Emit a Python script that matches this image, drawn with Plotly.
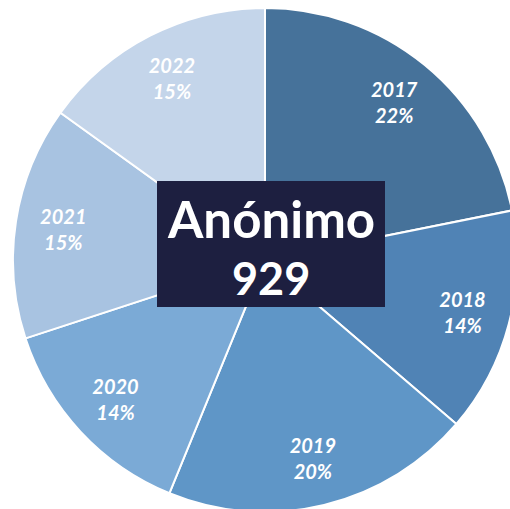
import plotly.graph_objects as go

years = ["2017", "2018", "2019", "2020", "2021", "2022"]
counts = [203, 134, 185, 128, 139, 140]
colors = ["#46729a", "#5083b5", "#5f96c7", "#7baad6", "#a8c3e1", "#c4d5ea"]
center_title = "Anónimo"
center_total = sum(counts)

W, H = 517, 512
ML, MT = 13, 8
PA = 504

def px(x):
    return (x - ML) / PA

def py(y):
    return 1 - (y - MT) / PA

fig = go.Figure()
fig.add_trace(go.Pie(
    labels=years, values=counts, sort=False, direction="clockwise", rotation=0,
    marker=dict(colors=colors, line=dict(color="white", width=2)),
    textinfo="none", hoverinfo="label+value+percent", showlegend=False,
))
fig.add_trace(go.Pie(
    labels=years, values=counts, sort=False, direction="clockwise", rotation=0,
    hole=0.62,
    marker=dict(colors=["rgba(0,0,0,0)"] * len(years), line=dict(width=0)),
    texttemplate="%{label}<br>%{percent:.0%}", textposition="inside",
    insidetextorientation="horizontal",
    textfont=dict(family="Lato", size=20, color="white", weight="bold", style="italic"),
    hoverinfo="skip", showlegend=False,
))

fig.add_shape(type="rect", xref="paper", yref="paper",
              x0=px(157), x1=px(385), y0=py(307), y1=py(181),
              fillcolor="#1d1f40", line=dict(width=0), layer="above")
fig.add_annotation(xref="paper", yref="paper", x=px(271), y=py(218),
                   text=f"<b>{center_title}</b>", showarrow=False,
                   xanchor="center", yanchor="middle",
                   font=dict(family="Lato", size=51, color="white"))
fig.add_annotation(xref="paper", yref="paper", x=px(271), y=py(278),
                   text=f"<b>{center_total}</b>", showarrow=False,
                   xanchor="center", yanchor="middle",
                   font=dict(family="Lato", size=45, color="white"))

fig.update_layout(width=W, height=H, margin=dict(l=ML, r=0, t=MT, b=0),
                  paper_bgcolor="white", plot_bgcolor="white")

fig.write_html("out.html", config={"displayModeBar": False},
               post_script="document.body.style.margin='0';document.body.style.overflow='hidden';document.documentElement.style.overflow='hidden';")
